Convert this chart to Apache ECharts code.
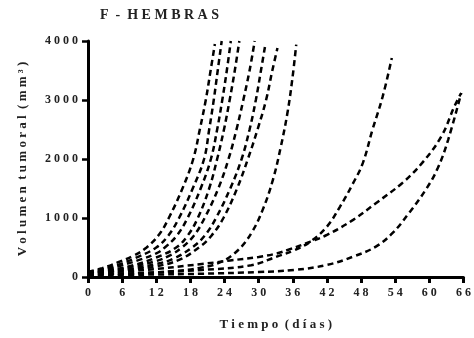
<!DOCTYPE html>
<html>
<head>
<meta charset="utf-8">
<script src="https://cdn.jsdelivr.net/npm/echarts@6/dist/echarts.min.js"></script>
<style>html,body{margin:0;padding:0;background:#fff}#c{width:474px;height:338px}</style>
</head>
<body>
<div id="c"></div>
<script>
// [day, tumour volume mm3]
const c1 = [[0,90],[2.5,150],[5.3,250],[8,360],[10.3,500],[12.5,720],[14.2,1000],[16.6,1500],[18.5,2000],[19.65,2500],[20.7,3000],[21.55,3500],[22.3,3950]];
const c2 = [[0,80],[3,140],[6,230],[9,350],[12,500],[14.1,700],[16,1000],[18.4,1500],[20.4,2000],[21.3,2500],[22.1,3000],[22.8,3500],[23.5,4000]];
const c3 = [[0,75],[3,125],[6,200],[9,290],[12,400],[13.5,500],[15.6,700],[17.5,1000],[19.8,1500],[21.6,2000],[22.7,2500],[23.6,3000],[24.4,3500],[25.1,4000]];
const c4 = [[0,70],[4,120],[8,200],[12,330],[15.5,500],[17.5,700],[19.3,1000],[21.3,1500],[22.7,2000],[23.9,2500],[24.9,3000],[25.8,3500],[26.6,4000]];
const c5 = [[0,65],[4,110],[8,180],[12,270],[14.5,370],[16.5,500],[18.6,700],[20.5,1000],[22.9,1500],[24.7,2000],[26.1,2500],[27.3,3000],[28.4,3500],[29.3,4000]];
const c6 = [[0,60],[4,100],[8,150],[12,220],[15,310],[18.3,500],[20.5,700],[22.5,1000],[25,1500],[27,2000],[28.4,2500],[29.5,3000],[30.4,3500],[31.1,3900]];
const c7 = [[0,55],[4,90],[8,130],[12,180],[16,290],[19.5,500],[21.7,700],[23.8,1000],[26.2,1500],[28.1,2000],[29.8,2500],[31.3,3000],[32.4,3500],[33.3,3880]];
const c8 = [[0,45],[5,55],[10,70],[15,100],[20,160],[23.5,260],[26.4,458],[28.7,742],[30.7,1138],[32.5,1647],[33.9,2212],[35.05,2779],[35.9,3345],[36.6,3940]];
const d  = [[0,40],[10,70],[20,120],[28.7,200],[33.3,350],[36.2,450],[39.1,600],[42,854],[44.3,1194],[46.6,1590],[48.3,1930],[50,2496],[51.8,3061],[53.4,3713]];
const e  = [[0,60],[10,120],[20,220],[25,280],[30,340],[33.3,402],[35.1,458],[39.1,600],[42,713],[46.6,968],[50.6,1251],[55.2,1590],[58.7,1930],[62.1,2382],[64.4,2891],[65.6,3119]];
const f  = [[0,30],[10,40],[20,55],[30,85],[36.2,119],[42,204],[46.6,345],[50.6,515],[53.5,742],[56.4,1081],[59.5,1500],[61.5,1850],[63.3,2326],[65.6,3119]];
const curves = [c1,c2,c3,c4,c5,c6,c7,c8,d,e,f];

const titleText = 'F - HEMBRAS';
const xName = 'Tiempo (días)';
const yName = 'Volumen tumoral (mm³)';

function spaced(s){ return s.split('').join(' ').replace(/ {3}/g,'  '); }
const serif = '"Liberation Serif","DejaVu Serif",serif';

const chart = echarts.init(document.getElementById('c'));
chart.setOption({
  animation:false,
  title:{text:spaced(titleText), left:95, top:3,
    textStyle:{fontFamily:serif, fontWeight:'bold', fontSize:14, color:'#222'}},
  grid:{left:88, right:5, top:41, bottom:61, containLabel:false},
  xAxis:{type:'value', min:0, max:66, interval:6,
    name:spaced(xName), nameLocation:'middle', nameGap:41,
    nameTextStyle:{fontFamily:serif, fontWeight:'bold', fontSize:13, color:'#222'},
    axisLine:{show:true, lineStyle:{color:'#000', width:3}},
    axisTick:{show:true, length:6, lineStyle:{color:'#000', width:3}},
    axisLabel:{fontFamily:serif, fontWeight:'bold', fontSize:12, color:'#222', margin:10,
      formatter:v=>spaced(String(v))},
    splitLine:{show:false}},
  yAxis:{type:'value', min:0, max:4000, interval:1000,
    name:spaced(yName), nameLocation:'middle', nameGap:59, nameRotate:90,
    nameTextStyle:{fontFamily:serif, fontWeight:'bold', fontSize:13, color:'#222'},
    axisLine:{show:true, lineStyle:{color:'#000', width:3}},
    axisTick:{show:true, length:6, lineStyle:{color:'#000', width:2.5}},
    axisLabel:{fontFamily:serif, fontWeight:'bold', fontSize:12, color:'#222', margin:10,
      formatter:v=>spaced(String(v))},
    splitLine:{show:false}},
  series: curves.map(c=>({type:'line', data:c, smooth:0.4,
    showSymbol:false, lineStyle:{color:'#000', width:2.5, type:[6,4]}}))
});
</script>
</body>
</html>
